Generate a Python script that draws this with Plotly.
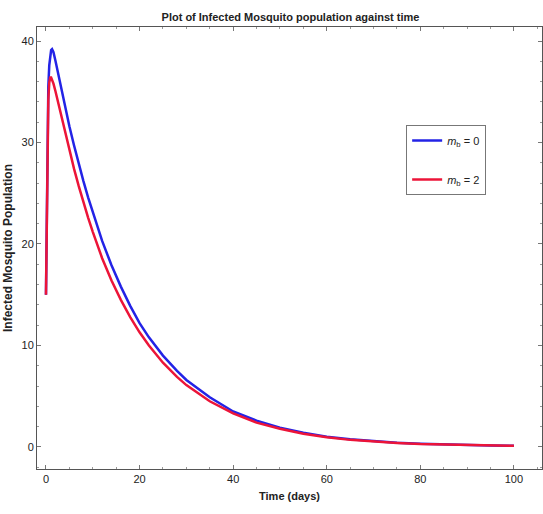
import plotly.graph_objects as go

time_days = [0, 0.15, 0.3, 0.5, 0.7, 0.9, 1.1, 1.3, 1.6, 2, 2.5, 3, 4, 5, 6, 7, 8, 9, 10, 12, 14,
             16, 18, 20, 22, 25, 28, 30, 35, 40, 45, 50, 55, 60, 65, 70, 75, 80, 85, 90, 95, 100]
infected_mb0 = [15, 24, 31, 35.5, 37.6, 38.7, 39.1, 39.2, 38.9, 38.1, 37.0, 35.9, 33.7, 31.6, 29.7,
                27.9, 26.2, 24.6, 23.1, 20.3, 17.9, 15.8, 13.9, 12.2, 10.8, 9.0, 7.5, 6.6, 4.9,
                3.5, 2.6, 1.9, 1.4, 1.0, 0.75, 0.55, 0.42, 0.32, 0.25, 0.2, 0.15, 0.12]
infected_mb2 = [15, 23.5, 30, 34.2, 35.9, 36.4, 36.4, 36.2, 35.8, 35.1, 34.1, 33.1, 31.1, 29.2, 27.4,
                25.7, 24.1, 22.6, 21.2, 18.6, 16.4, 14.5, 12.8, 11.3, 10.0, 8.3, 6.9, 6.1, 4.5,
                3.3, 2.4, 1.8, 1.3, 0.95, 0.7, 0.52, 0.4, 0.3, 0.24, 0.19, 0.15, 0.12]
series_names = ["<i>m</i><sub>b</sub> = 0", "<i>m</i><sub>b</sub> = 2"]
x_ticks = [0, 20, 40, 60, 80, 100]
y_ticks = [0, 10, 20, 30, 40]

FONT = "Liberation Sans Narrow, Arial Narrow, Liberation Sans, Arial, sans-serif"

fig = go.Figure()
fig.add_trace(go.Scatter(x=time_days, y=infected_mb0, mode="lines", name=series_names[0],
                         line=dict(color="#2323e6", width=2.5), legendgroup="a"))
fig.add_trace(go.Scatter(x=time_days, y=infected_mb2, mode="lines", name=series_names[1],
                         line=dict(color="#ec1438", width=2.5), legendgroup="b"))

axis_common = dict(showgrid=False, zeroline=False, showline=True, linecolor="#555555",
                   linewidth=1, mirror="allticks", ticks="inside", ticklen=4, tickcolor="#777777",
                   tickfont=dict(family=FONT, size=11, color="#222222"))

fig.update_layout(
    width=543, height=514,
    margin=dict(l=37, r=1, t=27, b=45),
    paper_bgcolor="white", plot_bgcolor="white",
    title=dict(text="<b>Plot of Infected Mosquito population against time</b>",
               x=0.535, xanchor="center", y=0.967, yanchor="middle",
               font=dict(family=FONT, size=11, color="#222222")),
    xaxis=dict(range=[-1.92, 106.0], tickvals=x_ticks,
               minor=dict(dtick=5, ticks="inside", ticklen=2, tickcolor="#999999"),
               title=dict(text="<b>Time (days)</b>", standoff=8,
                          font=dict(family=FONT, size=11, color="#222222")),
               **axis_common),
    yaxis=dict(range=[-2.17, 41.38], tickvals=y_ticks,
               minor=dict(dtick=2, ticks="inside", ticklen=2, tickcolor="#999999"),
               title=dict(text="<b>Infected Mosquito Population</b>", standoff=6,
                          font=dict(family=FONT, size=12, color="#222222")),
               **axis_common),
    legend=dict(x=0.731, y=0.778, xanchor="left", yanchor="top",
                bgcolor="white", bordercolor="#777777", borderwidth=1,
                traceorder="grouped", tracegroupgap=20,
                font=dict(family=FONT, size=11, color="#222222"),
                itemwidth=30),
    showlegend=True,
)

fig.write_html("out.html")
